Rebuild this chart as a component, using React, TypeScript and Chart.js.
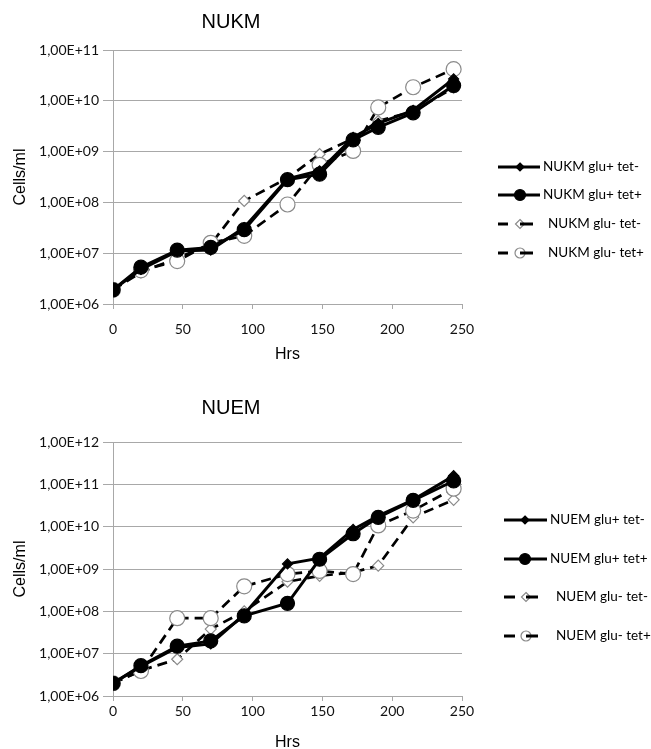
import React, { useEffect, useRef } from "react";
import { Chart, registerables } from "chart.js";
Chart.register(...registerables);

// ---------- data ----------
const hours = [0, 20, 46, 70, 94, 125, 148, 172, 190, 215, 244];
const xTickValues = [0, 50, 100, 150, 200, 250];

const nukmNames = ["NUKM glu+ tet-", "NUKM glu+ tet+", "NUKM glu- tet-", "NUKM glu- tet+"];
const nukmGluPlusTetMinus = [1.9e6, 4.8e6, 1.1e7, 1.15e7, 3.2e7, 2.9e8, 4.2e8, 1.9e9, 3.6e9, 6.5e9, 2.7e10];
const nukmGluPlusTetPlus = [1.9e6, 5.3e6, 1.15e7, 1.3e7, 2.9e7, 2.8e8, 3.6e8, 1.7e9, 3.0e9, 5.8e9, 2.0e10];
const nukmGluMinusTetMinus = [1.9e6, 4.2e6, 8e6, 1.5e7, 1.07e8, 3.0e8, 8.9e8, 1.8e9, 4.0e9, 6.2e9, 1.8e10];
const nukmGluMinusTetPlus = [1.9e6, 4.6e6, 7e6, 1.6e7, 2.2e7, 9.1e7, 5.5e8, 1.03e9, 7.4e9, 1.85e10, 4.2e10];
const nukmYTicks = [1e6, 1e7, 1e8, 1e9, 1e10, 1e11];
const nukmYTickLabels = ["1,00E+06", "1,00E+07", "1,00E+08", "1,00E+09", "1,00E+10", "1,00E+11"];

const nuemNames = ["NUEM glu+ tet-", "NUEM glu+ tet+", "NUEM glu- tet-", "NUEM glu- tet+"];
const nuemGluPlusTetMinus = [2e6, 5e6, 1.4e7, 1.7e7, 8.5e7, 1.32e9, 1.8e9, 8.6e9, 1.8e10, 4.3e10, 1.6e11];
const nuemGluPlusTetPlus = [2e6, 5.2e6, 1.5e7, 2e7, 7.8e7, 1.55e8, 1.7e9, 6.8e9, 1.66e10, 4.2e10, 1.2e11];
const nuemGluMinusTetMinus = [2e6, 4e6, 7.4e6, 3.8e7, 1.0e8, 5e8, 6.9e8, 8.3e8, 1.2e9, 1.66e10, 4.3e10];
const nuemGluMinusTetPlus = [2e6, 3.9e6, 6.9e7, 6.9e7, 3.9e8, 7.6e8, 9e8, 7.6e8, 1.07e10, 2.4e10, 7.9e10];
const nuemYTicks = [1e6, 1e7, 1e8, 1e9, 1e10, 1e11, 1e12];
const nuemYTickLabels = ["1,00E+06", "1,00E+07", "1,00E+08", "1,00E+09", "1,00E+10", "1,00E+11", "1,00E+12"];

const xTitle = "Hrs";
const yTitle = "Cells/ml";

// ---------- styles ----------
const GRID = "#a8a8a8";
const TICK_FONT = { family: "Lato, 'Liberation Sans', sans-serif", size: 14 };
const TITLE_FAMILY = "'Liberation Sans', Arial, sans-serif";

type SeriesStyle = {
  dashed: boolean;
  pointStyle: "circle" | "rectRot";
  radius: number;
  legendRadius: number;
  fill: string;
  stroke: string;
  lineWidth: number;
  order: number;
};

const seriesStyles: SeriesStyle[] = [
  { dashed: false, pointStyle: "rectRot", radius: 5, legendRadius: 4, fill: "#000", stroke: "#000", lineWidth: 3, order: 1 },
  { dashed: false, pointStyle: "circle", radius: 7, legendRadius: 5.5, fill: "#000", stroke: "#000", lineWidth: 3, order: 0 },
  { dashed: true, pointStyle: "rectRot", radius: 5.5, legendRadius: 4.5, fill: "#fff", stroke: "#8a8a8a", lineWidth: 2.7, order: 3 },
  { dashed: true, pointStyle: "circle", radius: 7.5, legendRadius: 5, fill: "#fff", stroke: "#8a8a8a", lineWidth: 2.7, order: 2 },
];

function drawMarker(ctx: CanvasRenderingContext2D, st: SeriesStyle, x: number, y: number, r: number) {
  ctx.save();
  ctx.setLineDash([]);
  ctx.beginPath();
  if (st.pointStyle === "circle") {
    ctx.arc(x, y, r, 0, Math.PI * 2);
  } else {
    ctx.moveTo(x, y - r);
    ctx.lineTo(x + r, y);
    ctx.lineTo(x, y + r);
    ctx.lineTo(x - r, y);
    ctx.closePath();
  }
  ctx.fillStyle = st.fill;
  ctx.fill();
  ctx.lineWidth = 1.2;
  ctx.strokeStyle = st.stroke;
  ctx.stroke();
  ctx.restore();
}

const sideLegend = {
  id: "sideLegend",
  afterDraw(chart: any, _args: any, opts: any) {
    const ctx: CanvasRenderingContext2D = chart.ctx;
    const g = opts;
    ctx.save();
    chart.data.datasets.forEach((ds: any, i: number) => {
      const st = seriesStyles[i];
      const y = g.rows[i];
      ctx.strokeStyle = "#000";
      ctx.lineWidth = 3;
      ctx.setLineDash([]);
      if (!st.dashed) {
        ctx.beginPath();
        ctx.moveTo(g.lineStart, y);
        ctx.lineTo(g.solidEnd, y);
        ctx.stroke();
        drawMarker(ctx, st, g.markerX, y, st.legendRadius);
      } else {
        ctx.beginPath();
        ctx.moveTo(g.lineStart, y);
        ctx.lineTo(g.dashSeg1End, y);
        ctx.stroke();
        drawMarker(ctx, st, g.dashMarkerX, y, st.legendRadius);
        ctx.strokeStyle = "#000";
        ctx.lineWidth = 3;
        ctx.beginPath();
        ctx.moveTo(g.dashMarkerX, y);
        ctx.lineTo(g.dashSeg2End, y);
        ctx.stroke();
      }
      ctx.fillStyle = "#000";
      ctx.font = "13.5px Lato, 'Liberation Sans', sans-serif";
      ctx.textAlign = "left";
      ctx.textBaseline = "middle";
      ctx.fillText(ds.label, st.dashed ? g.dashTextX : g.solidTextX, y);
    });
    ctx.restore();
  },
};

function buildDatasets(names: string[], series: number[][]) {
  return series.map((vals, i) => {
    const st = seriesStyles[i];
    return {
      label: names[i],
      data: hours.map((h, k) => ({ x: h, y: vals[k] })),
      borderColor: "#000",
      borderWidth: st.lineWidth,
      borderDash: st.dashed ? [10, 6] : [],
      pointStyle: st.pointStyle,
      pointRadius: st.radius,
      pointBackgroundColor: st.fill,
      pointBorderColor: st.stroke,
      pointBorderWidth: 1.2,
      tension: 0,
      fill: false,
      order: st.order,
    };
  });
}

type Geom = {
  titleTop: number;
  titleBottom: number;
  xAxisHeight: number;
  xTickPad: number;
  xTitlePad: number;
  legend: any;
};

function makeConfig(title: string, names: string[], series: number[][], yTicks: number[], yLabels: string[], g: Geom): any {
  return {
    type: "line",
    data: { datasets: buildDatasets(names, series) },
    plugins: [sideLegend],
    options: {
      responsive: false,
      maintainAspectRatio: false,
      animation: false,
      layout: { padding: { left: 0, right: 189, top: 0, bottom: 0 } },
      plugins: {
        legend: { display: false },
        tooltip: { enabled: false },
        title: {
          display: true,
          text: title,
          color: "#000",
          font: { family: TITLE_FAMILY, size: 20, weight: "normal", lineHeight: 1.2 },
          padding: { top: g.titleTop, bottom: g.titleBottom },
        },
        sideLegend: g.legend,
      },
      scales: {
        x: {
          type: "linear",
          min: 0,
          max: 250,
          afterBuildTicks: (s: any) => {
            s.ticks = xTickValues.map((v) => ({ value: v }));
          },
          ticks: { font: TICK_FONT, color: "#111", padding: g.xTickPad, maxRotation: 0, autoSkip: false, callback: (v: any) => String(v) },
          grid: { drawOnChartArea: false, drawTicks: true, tickLength: 5, color: GRID },
          border: { display: true, color: GRID, width: 1 },
          title: {
            display: true,
            text: xTitle,
            color: "#000",
            font: { family: TITLE_FAMILY, size: 16, lineHeight: 1.2 },
            padding: { top: 0, bottom: g.xTitlePad },
          },
          afterFit: (s: any) => {
            s.height = g.xAxisHeight;
          },
        },
        y: {
          type: "logarithmic",
          min: yTicks[0],
          max: yTicks[yTicks.length - 1],
          afterBuildTicks: (s: any) => {
            s.ticks = yTicks.map((v) => ({ value: v }));
          },
          ticks: { font: TICK_FONT, color: "#111", padding: 4, autoSkip: false, callback: (_v: any, i: number) => yLabels[i] },
          grid: { color: GRID, tickLength: 10, lineWidth: 1 },
          border: { display: true, color: GRID, width: 1 },
          title: {
            display: true,
            text: yTitle,
            color: "#000",
            font: { family: TITLE_FAMILY, size: 16, lineHeight: 1.2 },
            padding: { top: 11, bottom: 0 },
          },
          afterFit: (s: any) => {
            s.width = 113;
          },
        },
      },
    },
  };
}

const topGeom: Geom = {
  titleTop: 10,
  titleBottom: 16,
  xAxisHeight: 66,
  xTickPad: 12,
  xTitlePad: 6,
  legend: {
    rows: [167, 195, 224, 253],
    lineStart: 498,
    solidEnd: 540,
    markerX: 520,
    solidTextX: 543,
    dashSeg1End: 508,
    dashMarkerX: 520,
    dashSeg2End: 533,
    dashTextX: 548,
  },
};

const bottomGeom: Geom = {
  titleTop: 26,
  titleBottom: 22,
  xAxisHeight: 56,
  xTickPad: 2,
  xTitlePad: 0,
  legend: {
    rows: [150, 189, 227, 266],
    lineStart: 504,
    solidEnd: 547,
    markerX: 525,
    solidTextX: 550,
    dashSeg1End: 515,
    dashMarkerX: 526,
    dashSeg2End: 538,
    dashTextX: 556,
  },
};

function ChartCanvas({ config, top, height }: { config: any; top: number; height: number }) {
  const ref = useRef<HTMLCanvasElement | null>(null);
  useEffect(() => {
    if (!ref.current) return;
    const chart = new Chart(ref.current, config);
    return () => chart.destroy();
  }, [config]);
  return (
    <canvas
      ref={ref}
      width={651}
      height={height}
      style={{ position: "absolute", left: 0, top, width: 651, height, display: "block" }}
    />
  );
}

const topConfig = makeConfig(
  "NUKM",
  nukmNames,
  [nukmGluPlusTetMinus, nukmGluPlusTetPlus, nukmGluMinusTetMinus, nukmGluMinusTetPlus],
  nukmYTicks,
  nukmYTickLabels,
  topGeom
);
const bottomConfig = makeConfig(
  "NUEM",
  nuemNames,
  [nuemGluPlusTetMinus, nuemGluPlusTetPlus, nuemGluMinusTetMinus, nuemGluMinusTetPlus],
  nuemYTicks,
  nuemYTickLabels,
  bottomGeom
);

export default function App() {
  return (
    <div
      style={{
        position: "fixed",
        left: 0,
        top: 0,
        width: 651,
        height: 749,
        overflow: "hidden",
        background: "#fff",
      }}
    >
      <ChartCanvas config={topConfig} top={0} height={370} />
      <ChartCanvas config={bottomConfig} top={370} height={382} />
    </div>
  );
}
